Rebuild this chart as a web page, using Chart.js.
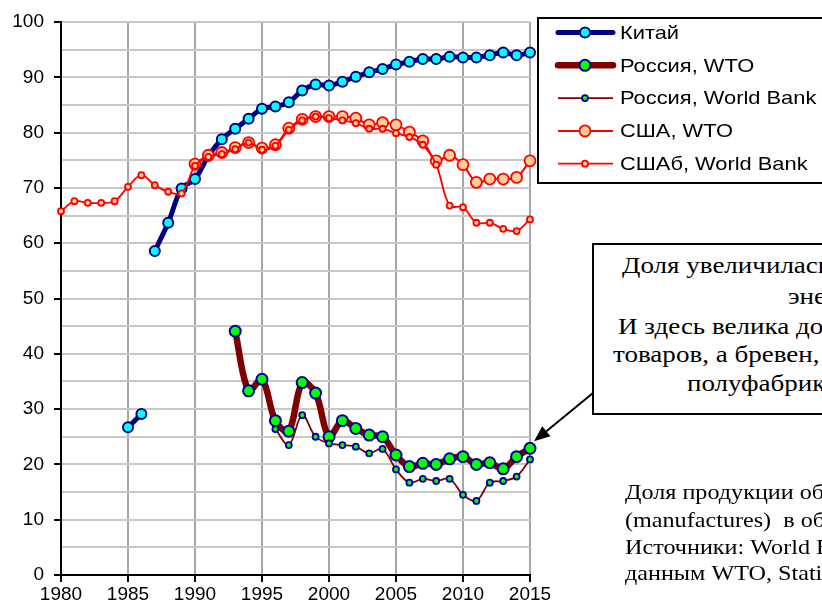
<!DOCTYPE html>
<html lang="ru">
<head>
<meta charset="utf-8">
<script src="https://cdn.jsdelivr.net/npm/chart.js@4.4.1/dist/chart.umd.min.js"></script>
<style>
  html, body { margin: 0; padding: 0; background: #fff; }
  body { width: 822px; height: 608px; overflow: hidden; position: relative; }
  #chart { position: absolute; left: 0; top: 0; }
  #callout { position: absolute; left: 592px; top: 243px; width: 320px; height: 172px;
             border: 2px solid #000; box-sizing: border-box; background: #fff; }
  .t { position: absolute; white-space: nowrap; color: #000; transform: scaleX(1.15);
       transform-origin: 0 50%; font-family: "Liberation Serif", "Times New Roman", serif; }
  .c { font-size: 23.5px; line-height: 30px; }
  .n { font-size: 21px; line-height: 26px; }
</style>
</head>
<body>
<canvas id="chart" width="822" height="608"></canvas>

<div id="callout"></div>
<div class="t c" style="left:622px; top:250px;">Доля увеличилась в основном за счёт</div>
<div class="t c" style="left:788px; top:281px;">энергоносителей.</div>
<div class="t c" style="left:618px; top:311px;">И здесь велика доля не готовых</div>
<div class="t c" style="left:613px; top:339px;">товаров, а бревен, металла и</div>
<div class="t c" style="left:687px; top:368px;">полуфабрикатов</div>

<div class="t n" style="left:625px; top:479px;">Доля продукции обрабатывающей промышленности</div>
<div class="t n" style="left:625px; top:507px;">(manufactures)&nbsp; в общем экспорте.</div>
<div class="t n" style="left:625px; top:534px;">Источники: World Bank, по</div>
<div class="t n" style="left:625px; top:560px;">данным WTO, Statistics Database</div>

<script>
// ---- data, % of manufactures in total merchandise exports ----
const chinaYears = [1985, 1986, 1987, 1988, 1989, 1990, 1991, 1992, 1993, 1994, 1995, 1996, 1997, 1998,
  1999, 2000, 2001, 2002, 2003, 2004, 2005, 2006, 2007, 2008, 2009, 2010, 2011, 2012, 2013, 2014, 2015];
const chinaShare = [26.7, 29.1, 58.6, 63.7, 69.9, 71.6, 75.8, 78.8, 80.7, 82.5, 84.3, 84.7, 85.5, 87.6,
  88.7, 88.5, 89.2, 90.1, 90.9, 91.5, 92.3, 92.8, 93.3, 93.3, 93.7, 93.6, 93.6, 94.0, 94.5, 94.0, 94.5];
const chinaBreakAfter = 1986; // no data joining 1986 and 1987

const russiaWtoYears = [1993, 1994, 1995, 1996, 1997, 1998, 1999, 2000, 2001, 2002, 2003, 2004,
  2005, 2006, 2007, 2008, 2009, 2010, 2011, 2012, 2013, 2014, 2015];
const russiaWto = [44.1, 33.3, 35.4, 27.9, 26.0, 34.8, 32.9, 25.0, 27.9, 26.5, 25.3, 25.0,
  21.7, 19.6, 20.2, 20.0, 21.0, 21.4, 20.0, 20.3, 19.2, 21.4, 22.9];

const russiaWbYears = [1996, 1997, 1998, 1999, 2000, 2001, 2002, 2003, 2004, 2005, 2006, 2007,
  2008, 2009, 2010, 2011, 2012, 2013, 2014, 2015];
const russiaWb = [26.4, 23.5, 28.9, 25.0, 23.8, 23.5, 23.2, 22.0, 22.8, 19.1, 16.7, 17.4,
  17.0, 17.4, 14.5, 13.4, 16.7, 17.0, 17.8, 20.9];

const usaWtoYears = [1990, 1991, 1992, 1993, 1994, 1995, 1996, 1997, 1998, 1999, 2000, 2001, 2002,
  2003, 2004, 2005, 2006, 2007, 2008, 2009, 2010, 2011, 2012, 2013, 2014, 2015];
const usaWto = [74.3, 75.9, 76.4, 77.3, 78.2, 77.2, 77.8, 80.8, 82.4, 82.9, 82.9, 82.9, 82.6,
  81.4, 81.8, 81.4, 80.1, 78.5, 74.9, 75.9, 74.2, 71.0, 71.6, 71.6, 71.9, 74.9];

const usaWbYears = [1980, 1981, 1982, 1983, 1984, 1985, 1986, 1987, 1988, 1989, 1990, 1991, 1992,
  1993, 1994, 1995, 1996, 1997, 1998, 1999, 2000, 2001, 2002, 2003, 2004, 2005, 2006, 2007, 2008,
  2009, 2010, 2011, 2012, 2013, 2014, 2015];
const usaWb = [65.8, 67.6, 67.3, 67.3, 67.6, 70.2, 72.3, 70.5, 69.3, 69.0, 74.0, 75.6, 76.1,
  77.0, 78.2, 76.9, 77.6, 80.5, 82.2, 82.9, 82.6, 82.2, 81.7, 80.7, 80.7, 79.9, 79.2, 77.8, 74.2,
  66.8, 66.5, 63.7, 63.7, 62.6, 62.2, 64.3];

const seriesLabels = ['Китай', 'Россия, WTO', 'Россия, World Bank', 'США, WTO', 'СШАб, World Bank'];

const xTicks = { min: 1980, max: 2015, step: 5 };
const yTicks = { min: 0, max: 100, step: 5, labelEvery: 10 };

// ---- helpers ----
const pts = (xs, ys) => xs.map((x, i) => ({ x, y: ys[i] }));
const chinaPts = pts(chinaYears, chinaShare);

const styles = {
  china:    { borderColor: '#000080', borderWidth: 5, pointRadius: 5, pointBorderWidth: 2,
              pointBackgroundColor: '#00ffff', pointBorderColor: '#000080' },
  russiaW:  { borderColor: '#800000', borderWidth: 6.5, pointRadius: 5.5, pointBorderWidth: 2,
              pointBackgroundColor: '#00ff00', pointBorderColor: '#000099' },
  russiaB:  { borderColor: '#800000', borderWidth: 1.8, pointRadius: 3, pointBorderWidth: 1.8,
              pointBackgroundColor: '#00ff00', pointBorderColor: '#000099' },
  usaW:     { borderColor: '#ff0000', borderWidth: 2, pointRadius: 5.5, pointBorderWidth: 1.8,
              pointBackgroundColor: '#ffcc99', pointBorderColor: '#ff0000' },
  usaB:     { borderColor: '#ff0000', borderWidth: 1.8, pointRadius: 3, pointBorderWidth: 1.8,
              pointBackgroundColor: '#ffcc99', pointBorderColor: '#ff0000' }
};

const line = (label, data, style, order) => ({
  label, data, parsing: false, tension: 0.35, fill: false, order, clip: false,
  pointHoverRadius: style.pointRadius, ...style
});

/**
 * legendBoxPlugin: Excel-like framed legend on the right, partly cut by the page edge.
 */
const legendBoxPlugin = {
  id: 'legendBox',
  afterDraw(chart) {
    const ctx = chart.ctx;
    ctx.save();
    ctx.fillStyle = '#fff';
    ctx.fillRect(538, 18, 300, 165);
    ctx.strokeStyle = '#000';
    ctx.lineWidth = 2;
    ctx.strokeRect(538, 18, 300, 165);

    const entries = [0, 2, 3, 4, 5]; // dataset indices (1 = early China piece)
    entries.forEach((di, i) => {
      const ds = chart.data.datasets[di];
      const yy = 32.5 + i * 32.8;
      ctx.beginPath();
      ctx.strokeStyle = ds.borderColor;
      ctx.lineWidth = ds.borderWidth;
      ctx.lineCap = ds.borderWidth > 3 ? 'round' : 'butt';
      ctx.moveTo(558, yy);
      ctx.lineTo(613, yy);
      ctx.stroke();

      ctx.beginPath();
      ctx.arc(585, yy, ds.pointRadius, 0, Math.PI * 2);
      ctx.fillStyle = ds.pointBackgroundColor;
      ctx.fill();
      ctx.lineWidth = ds.pointBorderWidth;
      ctx.strokeStyle = ds.pointBorderColor;
      ctx.stroke();

      // text is a bit wide in the original, stretch it horizontally
      ctx.save();
      ctx.translate(620, yy + 1);
      ctx.scale(1.15, 1);
      ctx.fillStyle = '#000';
      ctx.font = '19px "Liberation Sans", Arial, sans-serif';
      ctx.textAlign = 'left';
      ctx.textBaseline = 'middle';
      ctx.fillText(ds.label, 0, 0);
      ctx.restore();
    });
    ctx.restore();
  }
};

/**
 * calloutArrowPlugin: arrow from the callout box to the last Russia (WTO) point.
 */
const calloutArrowPlugin = {
  id: 'calloutArrow',
  afterDraw(chart) {
    const { ctx, scales: { x, y } } = chart;
    const lastYear = russiaWtoYears[russiaWtoYears.length - 1];
    const lastVal = russiaWto[russiaWto.length - 1];
    const tipX = x.getPixelForValue(lastYear) + 4;
    const tipY = y.getPixelForValue(lastVal) - 7;
    const fromX = 593, fromY = 393;

    const ang = Math.atan2(tipY - fromY, tipX - fromX);
    const len = 16, half = 6.5;
    const bx = tipX - len * Math.cos(ang), by = tipY - len * Math.sin(ang);

    ctx.save();
    ctx.strokeStyle = '#000';
    ctx.lineWidth = 2;
    ctx.beginPath();
    ctx.moveTo(fromX, fromY);
    ctx.lineTo(bx, by);
    ctx.stroke();

    ctx.fillStyle = '#000';
    ctx.beginPath();
    ctx.moveTo(tipX, tipY);
    ctx.lineTo(bx + half * Math.sin(ang), by - half * Math.cos(ang));
    ctx.lineTo(bx - half * Math.sin(ang), by + half * Math.cos(ang));
    ctx.closePath();
    ctx.fill();
    ctx.restore();
  }
};

const tickFont = { family: '"Liberation Sans", Arial, sans-serif', size: 19 };

new Chart(document.getElementById('chart').getContext('2d'), {
  type: 'line',
  data: {
    datasets: [
      line(seriesLabels[0], chinaPts.filter(p => p.x > chinaBreakAfter), styles.china, 5),
      line(seriesLabels[0], chinaPts.filter(p => p.x <= chinaBreakAfter), styles.china, 5),
      line(seriesLabels[1], pts(russiaWtoYears, russiaWto), styles.russiaW, 4),
      line(seriesLabels[2], pts(russiaWbYears, russiaWb), styles.russiaB, 3),
      line(seriesLabels[3], pts(usaWtoYears, usaWto), styles.usaW, 2),
      line(seriesLabels[4], pts(usaWbYears, usaWb), styles.usaB, 1)
    ]
  },
  options: {
    responsive: false,
    animation: false,
    layout: { padding: { left: 0, top: 22, right: 292, bottom: 0 } },
    scales: {
      x: {
        type: 'linear',
        min: xTicks.min,
        max: xTicks.max,
        afterFit: (s) => { s.height = 33; },
        ticks: {
          stepSize: xTicks.step,
          autoSkip: false,
          maxRotation: 0,
          color: '#000',
          font: tickFont,
          padding: 1,
          callback: (v) => String(v)
        },
        grid: { color: '#a6a6a6', lineWidth: 2, tickLength: 7, tickColor: '#000' },
        border: { color: '#000', width: 2 }
      },
      y: {
        min: yTicks.min,
        max: yTicks.max,
        afterFit: (s) => { s.width = 61; },
        ticks: {
          stepSize: yTicks.step,
          color: '#000',
          font: tickFont,
          padding: 10,
          callback: (v) => (v % yTicks.labelEvery === 0 ? String(v) : '')
        },
        grid: {
          color: '#c8c8c8',
          lineWidth: 2,
          tickLength: 7,
          tickColor: (c) => (c.tick && c.tick.value % yTicks.labelEvery === 0 ? '#000' : 'rgba(0,0,0,0)')
        },
        border: { color: '#000', width: 2 }
      }
    },
    plugins: { legend: { display: false }, tooltip: { enabled: false } }
  },
  plugins: [legendBoxPlugin, calloutArrowPlugin]
});
</script>
</body>
</html>
